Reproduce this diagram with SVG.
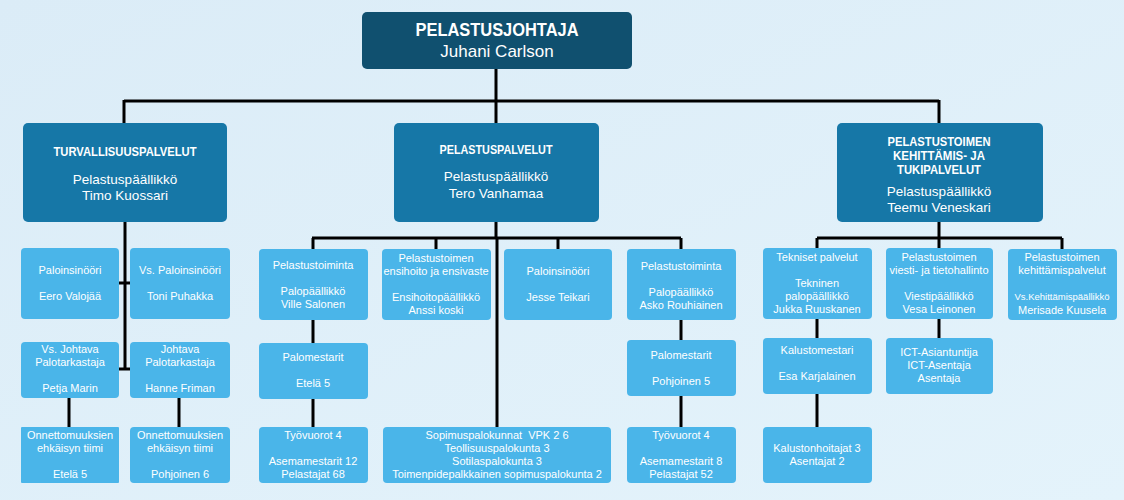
<svg xmlns="http://www.w3.org/2000/svg" width="1124" height="500" viewBox="0 0 1124 500">
<defs>
<linearGradient id="bg" x1="0" y1="0" x2="1" y2="1">
<stop offset="0" stop-color="#dbecf7"/>
<stop offset="1" stop-color="#e4f3fb"/>
</linearGradient>
<style>
.top{fill:#10506f}
.l2{fill:#1677a7}
.l3{fill:#4ab5e9}
text{font-family:"Liberation Sans",Arial,sans-serif;fill:#ffffff;text-anchor:middle}
.t1{font-size:17.5px;font-weight:bold}
.t1b{font-size:17px}
.h2{font-size:12.5px;font-weight:bold}
.b2{font-size:13.5px}
.b3{font-size:11px}
.s3{font-size:9.5px}
.c{fill:none;stroke:#000;stroke-width:3}
</style>
</defs>
<rect width="1124" height="500" fill="url(#bg)"/>
<g id="connectors" class="c">
<path d="M496 68V123M124 101H939M124 100V123M939 100V123"/>
<path d="M125 222V369M118 283H131M117 369H131M69 398V427M179 398V427"/>
<path d="M496 222V238M312 238H681M313 238V249M436 238V249M497 238V427M558 238V249M681 238V249M313 320V343M313 399V427M681 320V340M681 396V427"/>
<path d="M939 222V238M817 238H1062M817 238V248M939 238V248M1062 238V249M817 319V338M817 394V427M939 319V338"/>
</g>
<g id="n-pelastusjohtaja"><rect class="top" x="362" y="12" width="270" height="57" rx="5"/><text class="t1" x="497" y="36" textLength="163" lengthAdjust="spacingAndGlyphs">PELASTUSJOHTAJA</text><text class="t1b" x="497" y="57">Juhani Carlson</text></g>
<g id="n-turvallisuus"><rect class="l2" x="23" y="123" width="204" height="99" rx="5"/><text class="h2" x="125" y="156" textLength="143" lengthAdjust="spacingAndGlyphs">TURVALLISUUSPALVELUT</text><text class="b2" x="125" y="184">Pelastuspäällikkö</text><text class="b2" x="125" y="200">Timo Kuossari</text></g>
<g id="n-pelastuspalvelut"><rect class="l2" x="394" y="123" width="205" height="99" rx="5"/><text class="h2" x="496" y="154" textLength="113" lengthAdjust="spacingAndGlyphs">PELASTUSPALVELUT</text><text class="b2" x="496" y="181">Pelastuspäällikkö</text><text class="b2" x="496" y="198">Tero Vanhamaa</text></g>
<g id="n-kehittamis"><rect class="l2" x="837" y="123" width="206" height="99" rx="5"/><text class="h2" x="939" y="146" textLength="103" lengthAdjust="spacingAndGlyphs">PELASTUSTOIMEN</text><text class="h2" x="939" y="160" textLength="92" lengthAdjust="spacingAndGlyphs">KEHITTÄMIS- JA</text><text class="h2" x="939" y="174" textLength="84" lengthAdjust="spacingAndGlyphs">TUKIPALVELUT</text><text class="b2" x="939" y="196">Pelastuspäällikkö</text><text class="b2" x="939" y="212">Teemu Veneskari</text></g>
<g id="n-paloinsinoori1"><rect class="l3" x="21" y="248" width="98" height="71" rx="4"/><text class="b3" x="70" y="274">Paloinsinööri</text><text class="b3" x="70" y="300">Eero Valojää</text></g>
<g id="n-vspaloinsinoori"><rect class="l3" x="130" y="248" width="100" height="71" rx="4"/><text class="b3" x="180" y="274">Vs. Paloinsinööri</text><text class="b3" x="180" y="300">Toni Puhakka</text></g>
<g id="n-vsjohtava"><rect class="l3" x="21" y="342" width="98" height="56" rx="4"/><text class="b3" x="70" y="353">Vs. Johtava</text><text class="b3" x="70" y="366">Palotarkastaja</text><text class="b3" x="70" y="392">Petja Marin</text></g>
<g id="n-johtava"><rect class="l3" x="130" y="342" width="100" height="56" rx="4"/><text class="b3" x="180" y="353">Johtava</text><text class="b3" x="180" y="366">Palotarkastaja</text><text class="b3" x="180" y="392">Hanne Friman</text></g>
<g id="n-onnettomuus1"><rect class="l3" x="21" y="427" width="98" height="56" rx="1"/><text class="b3" x="70" y="439">Onnettomuuksien</text><text class="b3" x="70" y="452">ehkäisyn tiimi</text><text class="b3" x="70" y="478">Etelä 5</text></g>
<g id="n-onnettomuus2"><rect class="l3" x="130" y="427" width="100" height="56" rx="4"/><text class="b3" x="180" y="439">Onnettomuuksien</text><text class="b3" x="180" y="452">ehkäisyn tiimi</text><text class="b3" x="180" y="478">Pohjoinen 6</text></g>
<g id="n-pelastustoiminta1"><rect class="l3" x="259" y="249" width="109" height="71" rx="4"/><text class="b3" x="313" y="269">Pelastustoiminta</text><text class="b3" x="313" y="295">Palopäällikkö</text><text class="b3" x="313" y="308">Ville Salonen</text></g>
<g id="n-palomestarit1"><rect class="l3" x="259" y="343" width="109" height="56" rx="4"/><text class="b3" x="313" y="361">Palomestarit</text><text class="b3" x="313" y="387">Etelä 5</text></g>
<g id="n-tyovuorot1"><rect class="l3" x="259" y="427" width="109" height="56" rx="4"/><text class="b3" x="313" y="439">Työvuorot 4</text><text class="b3" x="313" y="465">Asemamestarit 12</text><text class="b3" x="313" y="478">Pelastajat 68</text></g>
<g id="n-ensihoito"><rect class="l3" x="382" y="249" width="109" height="71" rx="4"/><text class="b3" x="436" y="262">Pelastustoimen</text><text class="b3" x="436" y="275">ensihoito ja ensivaste</text><text class="b3" x="436" y="301">Ensihoitopäällikkö</text><text class="b3" x="436" y="314">Anssi koski</text></g>
<g id="n-paloinsinoori2"><rect class="l3" x="504" y="249" width="108" height="71" rx="4"/><text class="b3" x="558" y="275">Paloinsinööri</text><text class="b3" x="558" y="301">Jesse Teikari</text></g>
<g id="n-pelastustoiminta2"><rect class="l3" x="627" y="249" width="109" height="71" rx="4"/><text class="b3" x="681" y="270">Pelastustoiminta</text><text class="b3" x="681" y="296">Palopäällikkö</text><text class="b3" x="681" y="309">Asko Rouhiainen</text></g>
<g id="n-palomestarit2"><rect class="l3" x="627" y="340" width="109" height="56" rx="4"/><text class="b3" x="681" y="359">Palomestarit</text><text class="b3" x="681" y="385">Pohjoinen 5</text></g>
<g id="n-tyovuorot2"><rect class="l3" x="627" y="427" width="109" height="56" rx="4"/><text class="b3" x="681" y="439">Työvuorot 4</text><text class="b3" x="681" y="465">Asemamestarit 8</text><text class="b3" x="681" y="478">Pelastajat 52</text></g>
<g id="n-sopimus"><rect class="l3" x="383" y="427" width="228" height="56" rx="4"/><text class="b3" x="497" y="439">Sopimuspalokunnat&#160; VPK 2 6</text><text class="b3" x="497" y="452">Teollisuuspalokunta 3</text><text class="b3" x="497" y="465">Sotilaspalokunta 3</text><text class="b3" x="497" y="478">Toimenpidepalkkainen sopimuspalokunta 2</text></g>
<g id="n-tekniset"><rect class="l3" x="763" y="248" width="109" height="71" rx="4"/><text class="b3" x="817" y="261">Tekniset palvelut</text><text class="b3" x="817" y="287">Tekninen</text><text class="b3" x="817" y="300">palopäällikkö</text><text class="b3" x="817" y="313">Jukka Ruuskanen</text></g>
<g id="n-kalustomestari"><rect class="l3" x="763" y="338" width="109" height="56" rx="4"/><text class="b3" x="817" y="354">Kalustomestari</text><text class="b3" x="817" y="380">Esa Karjalainen</text></g>
<g id="n-kalustonhoitajat"><rect class="l3" x="763" y="427" width="109" height="56" rx="4"/><text class="b3" x="817" y="452">Kalustonhoitajat 3</text><text class="b3" x="817" y="465">Asentajat 2</text></g>
<g id="n-viesti"><rect class="l3" x="886" y="248" width="107" height="71" rx="4"/><text class="b3" x="939" y="261">Pelastustoimen</text><text class="b3" x="939" y="274">viesti- ja tietohallinto</text><text class="b3" x="939" y="300">Viestipäällikkö</text><text class="b3" x="939" y="313">Vesa Leinonen</text></g>
<g id="n-ict"><rect class="l3" x="886" y="338" width="107" height="56" rx="4"/><text class="b3" x="939" y="356">ICT-Asiantuntija</text><text class="b3" x="939" y="369">ICT-Asentaja</text><text class="b3" x="939" y="382">Asentaja</text></g>
<g id="n-kehittamispalvelut"><rect class="l3" x="1008" y="249" width="109" height="71" rx="4"/><text class="b3" x="1062" y="261">Pelastustoimen</text><text class="b3" x="1062" y="274">kehittämispalvelut</text><text class="s3" x="1062" y="300">Vs.Kehittämispäällikkö</text><text class="b3" x="1062" y="314">Merisade Kuusela</text></g>
</svg>
